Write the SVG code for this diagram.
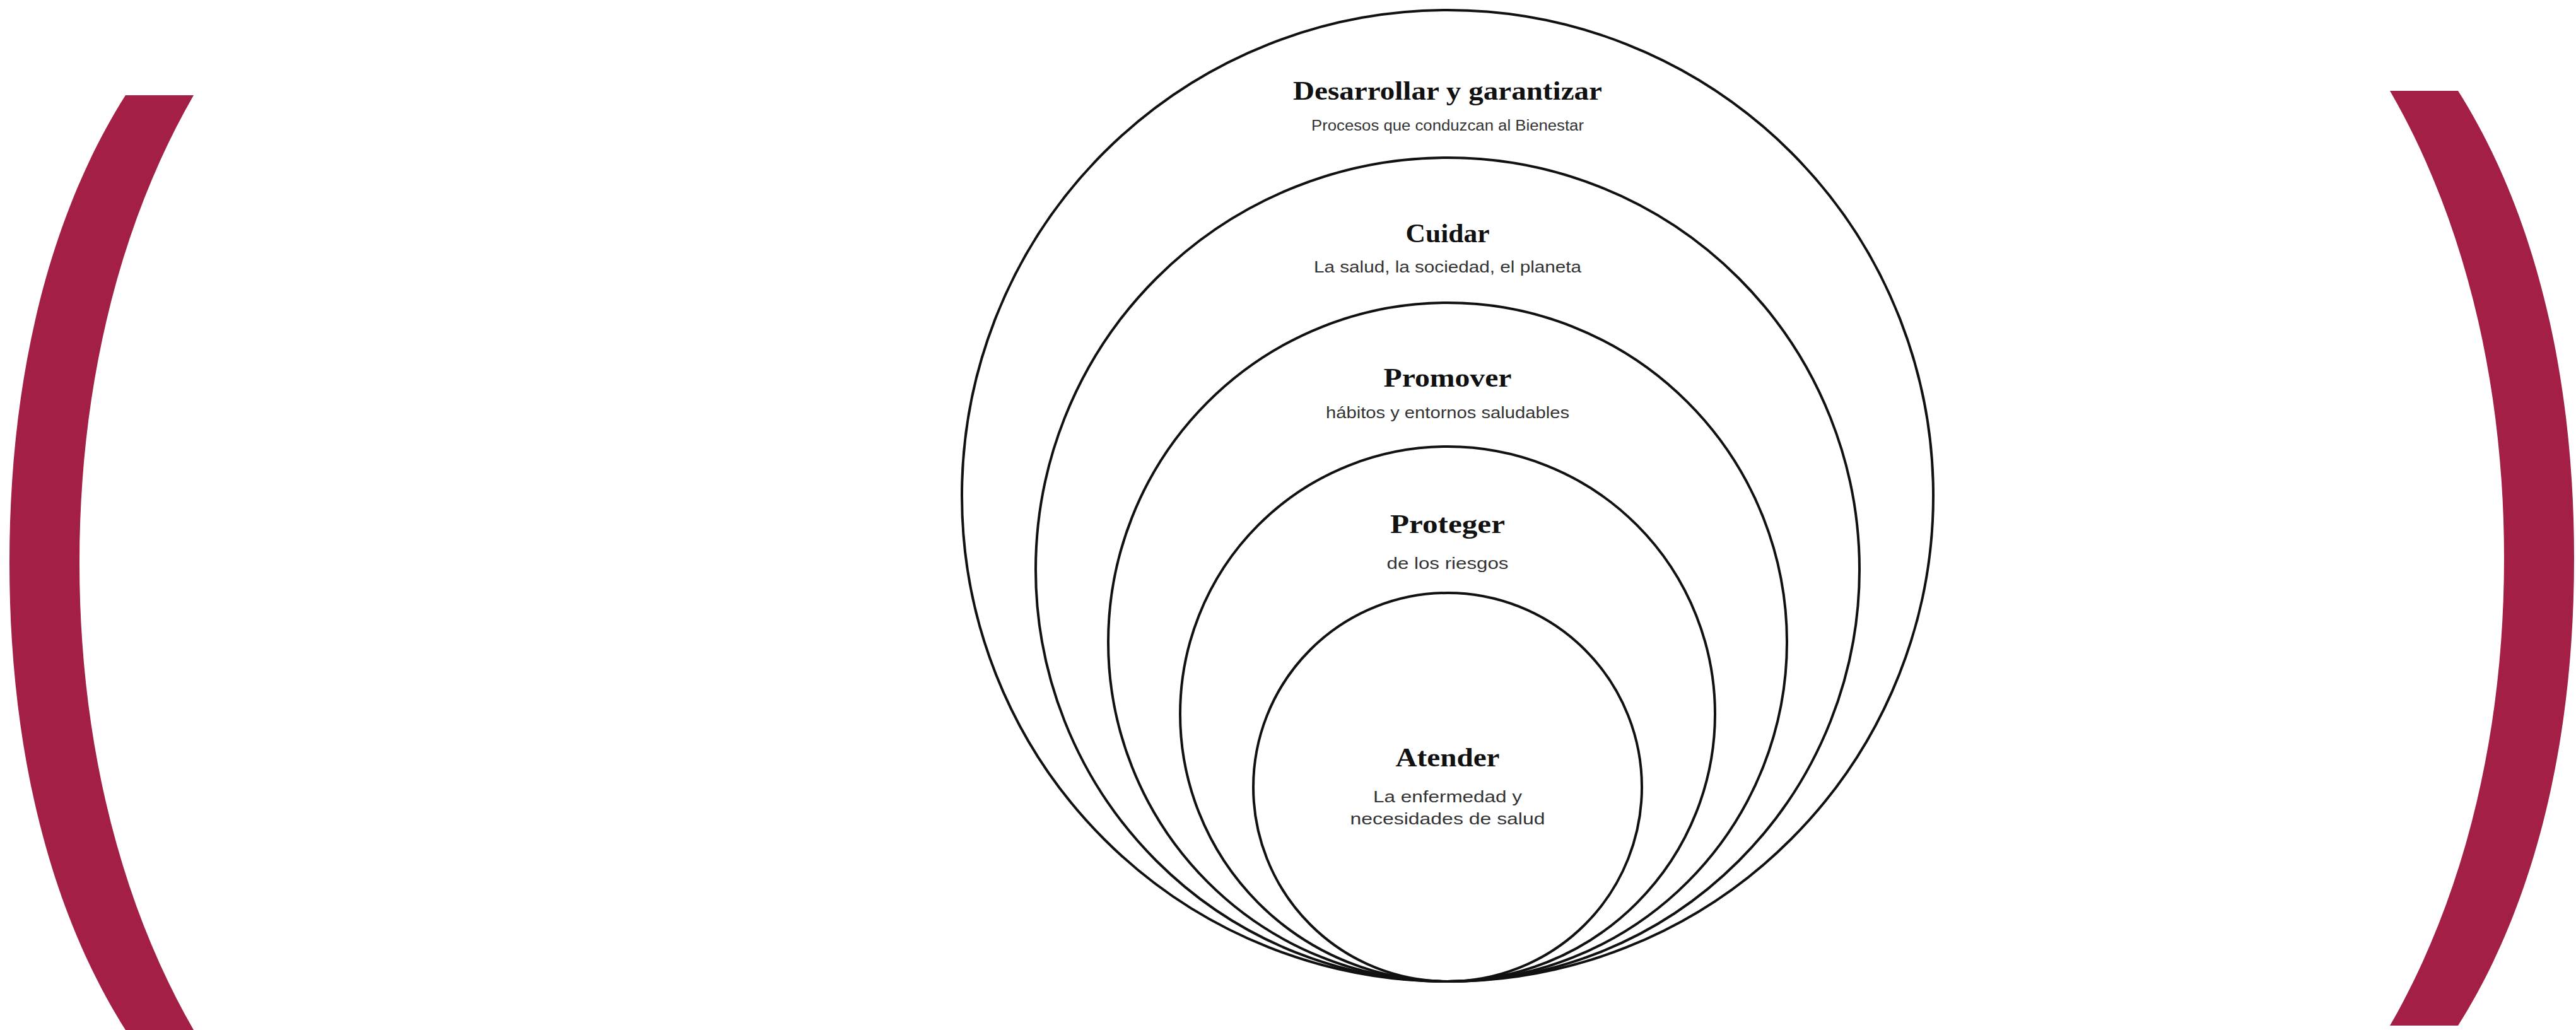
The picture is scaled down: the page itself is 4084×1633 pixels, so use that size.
<svg xmlns="http://www.w3.org/2000/svg" width="4084" height="1633" viewBox="0 0 4084 1633">
<defs>
<style>
.ring{fill:none;stroke:#111111;stroke-width:4}
.br{fill:#A41F45}
.t{font-family:"Liberation Serif","Times New Roman",serif;font-weight:bold;font-size:42px;fill:#111111;text-anchor:middle}
.s{font-family:"Liberation Sans",Arial,sans-serif;font-size:26px;fill:#333333;text-anchor:middle}
.s2{font-family:"Liberation Sans",Arial,sans-serif;font-size:23px;fill:#333333;text-anchor:middle}
</style>
<path id="bracket" d="M199,151 L307,151 C195,345 126,600 126,892 C126,1184 195,1439 307,1633 L199,1633 C95,1469 15,1224 15,892 C15,560 95,315 199,151 Z"/>
</defs>
<rect width="4084" height="1633" fill="#ffffff"/>
<g id="brackets">
<use href="#bracket" class="br"/>
<use href="#bracket" class="br" transform="translate(4096,-7) scale(-1,1)"/>
</g>
<g id="node-desarrollar">
<circle class="ring" cx="2295" cy="786" r="770"/>
<text class="t" x="2295" y="158" textLength="490" lengthAdjust="spacingAndGlyphs">Desarrollar y garantizar</text>
<text class="s2" x="2295" y="207" textLength="432" lengthAdjust="spacingAndGlyphs">Procesos que conduzcan al Bienestar</text>
</g>
<g id="node-cuidar">
<circle class="ring" cx="2295" cy="903" r="653"/>
<text class="t" x="2295" y="384" textLength="133" lengthAdjust="spacingAndGlyphs">Cuidar</text>
<text class="s" x="2295" y="432" textLength="424" lengthAdjust="spacingAndGlyphs">La salud, la sociedad, el planeta</text>
</g>
<g id="node-promover">
<circle class="ring" cx="2295" cy="1018" r="538"/>
<text class="t" x="2295" y="613" textLength="203" lengthAdjust="spacingAndGlyphs">Promover</text>
<text class="s" x="2295" y="663" textLength="386" lengthAdjust="spacingAndGlyphs">hábitos y entornos saludables</text>
</g>
<g id="node-proteger">
<circle class="ring" cx="2295" cy="1132" r="424"/>
<text class="t" x="2295" y="845" textLength="182" lengthAdjust="spacingAndGlyphs">Proteger</text>
<text class="s" x="2295" y="902" textLength="193" lengthAdjust="spacingAndGlyphs">de los riesgos</text>
</g>
<g id="node-atender">
<circle class="ring" cx="2295" cy="1248" r="308"/>
<text class="t" x="2295" y="1215" textLength="165" lengthAdjust="spacingAndGlyphs">Atender</text>
<text class="s" x="2295" y="1272" textLength="236" lengthAdjust="spacingAndGlyphs">La enfermedad y</text>
<text class="s" x="2295" y="1307" textLength="309" lengthAdjust="spacingAndGlyphs">necesidades de salud</text>
</g>
<g id="connectors"/>
</svg>
